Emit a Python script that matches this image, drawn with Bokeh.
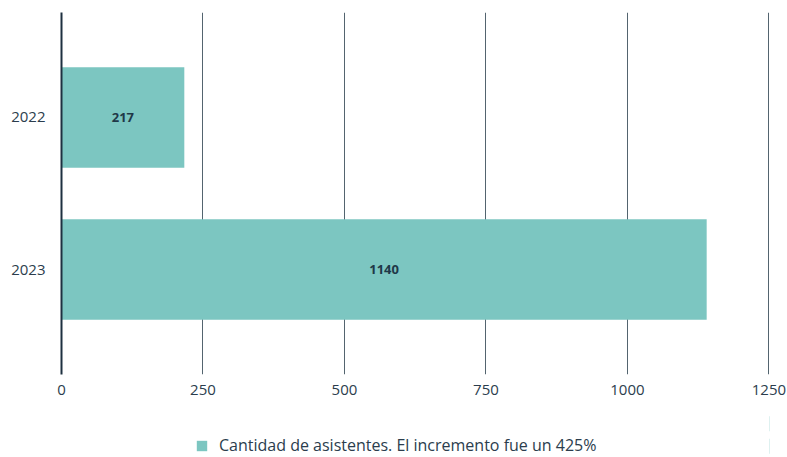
from bokeh.plotting import figure
from bokeh.layouts import column
from bokeh.models import ColumnDataSource, Range1d, FactorRange, Legend, LegendItem, FixedTicker, LabelSet
from bokeh.core.properties import value
from bokeh.embed import file_html
from bokeh.resources import INLINE

years = ["2022", "2023"]
attendees = [217, 1140]
x_ticks = [0, 250, 500, 750, 1000, 1250]
legend_label = "Cantidad de asistentes. El incremento fue un 425%"

FONT = "Open Sans"
TEXT = "#2b3d4d"
TEAL = "#7cc6c1"

src = ColumnDataSource(dict(
    year=years,
    val=attendees,
    mid=[v / 2 for v in attendees],
    lab=[str(v) for v in attendees],
))

p = figure(
    width=787, height=412,
    y_range=FactorRange(factors=years[::-1], range_padding=0.19, range_padding_units="absolute"),
    x_range=Range1d(0, 1251),
    output_backend="svg", toolbar_location=None,
    min_border_left=61, min_border_right=18, min_border_top=12, min_border_bottom=38,
)
p.outline_line_color = None
p.background_fill_color = "white"

p.hbar(y="year", right="val", left=0, height=0.66, source=src, color=TEAL, line_color=None)

p.add_layout(LabelSet(x="mid", y="year", text="lab", source=src,
                      text_align="center", text_baseline="middle",
                      text_font=value(FONT), text_font_size="13px",
                      text_font_style="bold", text_color="#1f3848"))

p.xaxis.ticker = FixedTicker(ticks=x_ticks)
p.xaxis.axis_line_color = None
p.xaxis.major_tick_line_color = None
p.xaxis.minor_tick_line_color = None
p.xaxis.major_label_standoff = 4
p.xaxis.major_label_text_font = FONT
p.xaxis.major_label_text_font_size = "15px"
p.xaxis.major_label_text_color = TEXT

p.yaxis.axis_line_color = "#1e3040"
p.yaxis.axis_line_width = 2
p.yaxis.major_tick_line_color = None
p.yaxis.minor_tick_line_color = None
p.yaxis.major_label_standoff = 10
p.yaxis.major_label_text_font = FONT
p.yaxis.major_label_text_font_size = "15px"
p.yaxis.major_label_text_color = TEXT

p.xgrid.grid_line_color = "#53646f"
p.xgrid.grid_line_width = 1
p.ygrid.grid_line_color = None

# legend strip below the chart (same series, drawn outside its visible range)
lg = figure(width=787, height=45, output_backend="svg", toolbar_location=None,
            x_axis_type=None, y_axis_type=None,
            x_range=Range1d(-2, -1), y_range=FactorRange(factors=years),
            min_border_left=0, min_border_right=0, min_border_top=0, min_border_bottom=0)
lg.outline_line_color = None
lg.xgrid.visible = False
lg.ygrid.visible = False
r_leg = lg.hbar(y="year", right="val", left=0, height=0.66, source=src, color=TEAL, line_color=None)

legend = Legend(items=[LegendItem(label=legend_label, renderers=[r_leg])],
                orientation="horizontal", location=(134, 1),
                label_text_font=FONT, label_text_font_size="16px",
                label_text_color=TEXT, glyph_width=13, glyph_height=13,
                label_standoff=11, border_line_color=None, background_fill_alpha=0,
                margin=0, padding=0)
lg.add_layout(legend, "center")

layout = column(p, lg, spacing=0)
open("out.html", "w").write(file_html(layout, INLINE))
